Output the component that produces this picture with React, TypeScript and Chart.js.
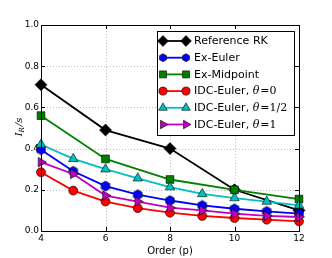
import React, { useEffect, useRef } from "react";
import { Chart, registerables } from "chart.js";
Chart.register(...registerables);

const refOrders = [4, 6, 8, 10, 12];
const allOrders = [4, 5, 6, 7, 8, 9, 10, 11, 12];
const referenceRK = [0.71, 0.49, 0.4, 0.2, 0.1];
const exMidpoint = [0.56, 0.35, 0.25, 0.2, 0.155];
const exEuler = [0.395, 0.29, 0.218, 0.176, 0.148, 0.124, 0.108, 0.095, 0.084];
const idcTheta0 = [0.285, 0.196, 0.143, 0.111, 0.089, 0.073, 0.063, 0.055, 0.047];
const idcThetaHalf = [0.42, 0.35, 0.3, 0.256, 0.213, 0.18, 0.16, 0.143, 0.124];
const idcTheta1 = [0.334, 0.277, 0.172, 0.143, 0.113, 0.1, 0.084, 0.073, 0.068];
const xTicks = [4, 6, 8, 10, 12];
const yTicks = [0, 0.2, 0.4, 0.6, 0.8, 1.0];

const zip = (xs: number[], ys: number[]) => xs.map((x, i) => ({ x, y: ys[i] }));

function hexPath(ctx: CanvasRenderingContext2D, cx: number, cy: number, r: number) {
  ctx.beginPath();
  for (let i = 0; i < 6; i++) {
    const a = (i * Math.PI) / 3 - Math.PI / 2;
    const px = cx + r * Math.cos(a);
    const py = cy + r * Math.sin(a);
    if (i === 0) ctx.moveTo(px, py);
    else ctx.lineTo(px, py);
  }
  ctx.closePath();
}

function makeHex(r: number, fill: string) {
  const c = document.createElement("canvas");
  const s = Math.ceil(r * 2 + 2);
  c.width = s;
  c.height = s;
  const ctx = c.getContext("2d")!;
  hexPath(ctx, s / 2, s / 2, r);
  ctx.fillStyle = fill;
  ctx.fill();
  ctx.lineWidth = 0.6;
  ctx.strokeStyle = "#000";
  ctx.stroke();
  return c;
}

function drawMarker(ctx: CanvasRenderingContext2D, style: string, x: number, y: number, r: number, rot: number) {
  ctx.save();
  ctx.translate(x, y);
  ctx.rotate((rot * Math.PI) / 180);
  ctx.beginPath();
  if (style === "rectRot") {
    ctx.moveTo(0, -r);
    ctx.lineTo(r, 0);
    ctx.lineTo(0, r);
    ctx.lineTo(-r, 0);
    ctx.closePath();
  } else if (style === "rect") {
    const h = r * Math.SQRT1_2;
    ctx.rect(-h, -h, 2 * h, 2 * h);
  } else if (style === "circle") {
    ctx.arc(0, 0, r, 0, Math.PI * 2);
  } else if (style === "triangle") {
    ctx.moveTo(0, -r);
    ctx.lineTo(r * Math.sin((2 * Math.PI) / 3), -r * Math.cos((2 * Math.PI) / 3));
    ctx.lineTo(r * Math.sin((4 * Math.PI) / 3), -r * Math.cos((4 * Math.PI) / 3));
    ctx.closePath();
  }
  ctx.fill();
  ctx.stroke();
  ctx.restore();
}

type Series = { label: string[]; color: string; style: any; radius: number; rot?: number };

export default function App() {
  const ref = useRef<HTMLCanvasElement>(null);
  useEffect(() => {
    document.body.style.margin = "0";
    const hex = makeHex(5, "#0000ff");
    const series: Series[] = [
      { label: ["Reference RK"], color: "#000000", style: "rectRot", radius: 6 },
      { label: ["Ex-Euler"], color: "#0000ff", style: hex, radius: 5 },
      { label: ["Ex-Midpoint"], color: "#008000", style: "rect", radius: 5.5 },
      { label: ["IDC-Euler, ", "θ", "=0"], color: "#ff0000", style: "circle", radius: 4.5 },
      { label: ["IDC-Euler, ", "θ", "=1/2"], color: "#00bfbf", style: "triangle", radius: 5.5 },
      { label: ["IDC-Euler, ", "θ", "=1"], color: "#bf00bf", style: "triangle", radius: 5.5, rot: 90 },
    ];
    const dataArr = [
      zip(refOrders, referenceRK),
      zip(allOrders, exEuler),
      zip(refOrders, exMidpoint),
      zip(allOrders, idcTheta0),
      zip(allOrders, idcThetaHalf),
      zip(allOrders, idcTheta1),
    ];

    const plugin = {
      id: "mpl",
      beforeDatasetsDraw(chart: any) {
        const { ctx, chartArea: a, scales } = chart;
        ctx.save();
        ctx.strokeStyle = "#b0b0b0";
        ctx.lineWidth = 0.8;
        ctx.setLineDash([1, 2]);
        xTicks.forEach((t) => {
          const px = Math.round(scales.x.getPixelForValue(t)) + 0.5;
          ctx.beginPath();
          ctx.moveTo(px, a.top);
          ctx.lineTo(px, a.bottom);
          ctx.stroke();
        });
        yTicks.forEach((t) => {
          const py = Math.round(scales.y.getPixelForValue(t)) + 0.5;
          ctx.beginPath();
          ctx.moveTo(a.left, py);
          ctx.lineTo(a.right, py);
          ctx.stroke();
        });
        ctx.restore();
      },
      afterDatasetsDraw(chart: any) {
        const { ctx, chartArea: a, scales } = chart;
        ctx.save();
        ctx.strokeStyle = "#000";
        ctx.lineWidth = 1;
        ctx.setLineDash([]);
        ctx.strokeRect(Math.round(a.left) + 0.5, Math.round(a.top) + 0.5, Math.round(a.right - a.left), Math.round(a.bottom - a.top));
        const tl = 4;
        xTicks.forEach((t) => {
          const px = Math.round(scales.x.getPixelForValue(t)) + 0.5;
          ctx.beginPath();
          ctx.moveTo(px, a.bottom);
          ctx.lineTo(px, a.bottom - tl);
          ctx.moveTo(px, a.top);
          ctx.lineTo(px, a.top + tl);
          ctx.stroke();
        });
        yTicks.forEach((t) => {
          const py = Math.round(scales.y.getPixelForValue(t)) + 0.5;
          ctx.beginPath();
          ctx.moveTo(a.left, py);
          ctx.lineTo(a.left + tl, py);
          ctx.moveTo(a.right, py);
          ctx.lineTo(a.right - tl, py);
          ctx.stroke();
        });

        // legend
        const bx = 157.5, by = 31.5, bw = 137, bh = 104;
        ctx.fillStyle = "#fff";
        ctx.fillRect(bx, by, bw, bh);
        ctx.strokeStyle = "#000";
        ctx.lineWidth = 1;
        ctx.strokeRect(bx, by, bw, bh);
        series.forEach((s, i) => {
          const cy = 41 + i * 16.7;
          const x1 = 163, x2 = 186;
          ctx.strokeStyle = s.color;
          ctx.lineWidth = 1.8;
          ctx.beginPath();
          ctx.moveTo(x1, cy);
          ctx.lineTo(x2, cy);
          ctx.stroke();
          [x1, x2].forEach((mx) => {
            ctx.fillStyle = s.color;
            ctx.strokeStyle = "#000";
            ctx.lineWidth = 0.6;
            if (s.style === hex) {
              hexPath(ctx, mx, cy, 4);
              ctx.fill();
              ctx.stroke();
            } else {
              drawMarker(ctx, s.style, mx, cy, s.radius * 0.9, s.rot || 0);
            }
          });
          let tx = 194;
          ctx.fillStyle = "#000";
          ctx.textBaseline = "middle";
          ctx.textAlign = "left";
          s.label.forEach((part, j) => {
            if (j === 0) ctx.font = "11px 'DejaVu Sans'";
            else if (j === 1) ctx.font = "italic 11px 'DejaVu Serif'";
            else ctx.font = "11px 'DejaVu Serif'";
            ctx.fillText(part, tx, cy + 0.5);
            tx += ctx.measureText(part).width + (j === 1 ? 1 : 0);
          });
        });

        // axis titles
        ctx.fillStyle = "#000";
        ctx.font = "10px 'DejaVu Sans'";
        ctx.textAlign = "center";
        ctx.textBaseline = "middle";
        ctx.fillText("Order (p)", (a.left + a.right) / 2, 251);
        ctx.save();
        ctx.translate(19, 127);
        ctx.rotate(-Math.PI / 2);
        ctx.textAlign = "left";
        ctx.font = "italic 10px 'DejaVu Serif'";
        const w1 = ctx.measureText("I").width;
        ctx.font = "italic 7px 'DejaVu Serif'";
        const w2 = ctx.measureText("R").width;
        ctx.font = "italic 10px 'DejaVu Serif'";
        const w3 = ctx.measureText("/s").width;
        let sx = -(w1 + w2 + w3 + 1) / 2;
        ctx.fillText("I", sx, 0);
        sx += w1;
        ctx.font = "italic 7px 'DejaVu Serif'";
        ctx.fillText("R", sx, 3);
        sx += w2 + 1;
        ctx.font = "italic 10px 'DejaVu Serif'";
        ctx.fillText("/s", sx, 0);
        ctx.restore();
        ctx.restore();
      },
    };

    const chart = new Chart(ref.current!, {
      type: "line",
      data: {
        datasets: series.map((s, i) => ({
          label: s.label.join(""),
          data: dataArr[i],
          borderColor: s.color,
          backgroundColor: s.color,
          borderWidth: 1.8,
          pointStyle: s.style,
          pointRadius: s.radius,
          pointRotation: s.rot || 0,
          pointBorderColor: "#000",
          pointBorderWidth: 0.6,
          pointBackgroundColor: s.color,
          fill: false,
          tension: 0,
          order: 6 - i,
          clip: false as any,
        })),
      },
      options: {
        animation: false,
        responsive: false,
        events: [],
        layout: { padding: { top: 25, right: 33, left: 0, bottom: 0 } },
        plugins: { legend: { display: false }, tooltip: { enabled: false } },
        scales: {
          x: {
            type: "linear",
            min: 4,
            max: 12,
            afterBuildTicks: (sc: any) => {
              sc.ticks = xTicks.map((v) => ({ value: v }));
            },
            afterFit: (sc: any) => {
              sc.height = 27;
            },
            grid: { display: false, drawTicks: false },
            border: { display: false },
            ticks: {
              color: "#000",
              font: { family: "'DejaVu Sans'", size: 9 },
              padding: 2,
              maxRotation: 0,
              autoSkip: false,
            },
          },
          y: {
            type: "linear",
            min: 0,
            max: 1,
            afterBuildTicks: (sc: any) => {
              sc.ticks = yTicks.map((v) => ({ value: v }));
            },
            afterFit: (sc: any) => {
              sc.width = 41;
            },
            grid: { display: false, drawTicks: false },
            border: { display: false },
            ticks: {
              color: "#000",
              font: { family: "'DejaVu Sans'", size: 9 },
              padding: 2,
              callback: (v: any) => Number(v).toFixed(1),
            },
          },
        },
      },
      plugins: [plugin],
    });
    return () => chart.destroy();
  }, []);
  return (
    <div style={{ position: "absolute", left: 0, top: 0, width: 332, height: 258, background: "#fff" }}>
      <canvas ref={ref} width={332} height={258} style={{ width: 332, height: 258 }} />
    </div>
  );
}
